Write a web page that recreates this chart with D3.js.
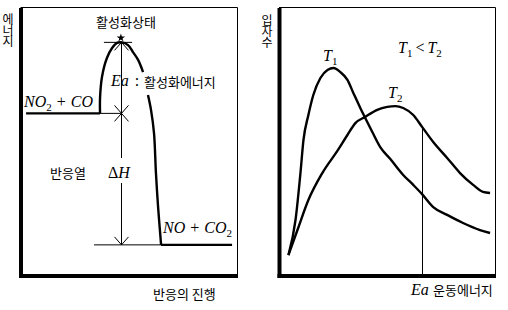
<!DOCTYPE html>
<html>
<head>
<meta charset="utf-8">
<script src="https://cdn.jsdelivr.net/npm/d3@7"></script>
<style>
  body { margin: 0; background: #fff; }
  svg { display: block; }
  .kr { font-family: "Noto Sans CJK KR", sans-serif; font-size: 13px; fill: #000; }
  .vkr { font-family: "Noto Sans CJK KR", sans-serif; font-size: 12px; fill: #000;
         writing-mode: vertical-rl; text-orientation: upright; }
  .math { font-family: "Liberation Serif", serif; font-style: italic; font-size: 16px; fill: #000; }
  .curve { fill: none; stroke: #000; stroke-width: 2.4; stroke-linejoin: round; }
  .thin { fill: none; stroke: #000; stroke-width: 1; }
  .thick { fill: none; stroke: #000; stroke-width: 2.2; }
</style>
</head>
<body>
<svg id="chart" width="508" height="310"></svg>
<script>
// ---- left panel: energy vs reaction progress (0..100 units) ----
const reactantLevel = 60.6;
const productLevel = 11.9;
const reactantStart = 1.9;
const productEnd = 97.7;
const barrierRise = [[36.3, 60.6], [36.3, 66.3], [37.2, 74.1], [39.5, 81.1], [41.9, 84.8],
  [44.2, 86.7], [46.5, 86.9], [49.3, 85.9], [51.6, 83.3], [54.0, 80.4], [56.3, 75.9]];
const barrierFall = [[58.6, 67.4], [60.0, 61.9], [61.4, 53.3], [62.3, 38.5], [63.3, 25.9], [64.7, 11.9]];
const peakEnergy = 86.9;
const arrowX = 46.0;
const tangentSpan = [38.1, 51.2];
const productGuideStart = 33.5;

// ---- right panel: particle count vs kinetic energy (0..100 units) ----
const energyT1 = [3.7, 7.0, 9.3, 10.7, 13.0, 15.3, 18.6, 21.9, 24.7, 27.9, 31.2, 34.0, 37.2,
  39.5, 42.8, 46.5, 51.2, 57.2, 61.9, 66.0, 71.2, 77.7, 85.1, 93.0, 97.7];
const countT1 = [8.1, 21.1, 38.5, 50.7, 60.0, 67.4, 73.7, 76.7, 77.4, 75.9, 73.0, 68.1, 62.6,
  58.9, 53.7, 48.1, 43.7, 37.8, 34.1, 30.7, 25.9, 23.0, 20.0, 17.4, 16.3];
const energyT2 = [3.7, 7.9, 13.0, 19.5, 26.5, 31.2, 34.9, 39.5, 45.1, 49.8, 53.5, 57.2, 61.9,
  66.0, 71.2, 77.7, 83.7, 89.8, 94.4, 97.7];
const countT2 = [8.1, 17.4, 28.5, 38.5, 46.7, 52.6, 57.0, 59.3, 61.9, 63.0, 63.3, 62.6, 60.0,
  55.6, 50.0, 44.1, 38.5, 34.1, 31.5, 31.1];
const activationEnergy = 66.0;

const svg = d3.select("#chart");

function drawFrame(g, x, y) {
  let [x0, x1] = x.range(), [y0, y1] = y.range();
  // thick left and bottom axes, no ticks
  g.append("g")
      .attr("transform", "translate(" + (x0 - 1.5) + ",0)")
      .call(d3.axisLeft(y.copy().range([y0 + 0.5, y1 + 0.5])).tickValues([]).tickSizeOuter(0))
      .select(".domain").attr("stroke-width", 4);
  g.append("g")
      .attr("transform", "translate(0," + (y0 - 1.5) + ")")
      .call(d3.axisBottom(x.copy().range([x0 - 3.5, x1 + 0.5])).tickValues([]).tickSizeOuter(0))
      .select(".domain").attr("stroke-width", 4);
  // thin top and right
  g.append("path").attr("class", "thin")
      .attr("d", "M" + (x0 - 1.5) + "," + (y1 + 0.5) + "H" + (x1 + 0.5) + "V" + (y0 - 2));
}

function vLabel(g, cx, top, label) {
  g.append("text").attr("class", "vkr")
      .attr("x", cx).attr("y", top)
      .style("letter-spacing", "-1px")
      .text(label);
}

// parts: {t, sub, up, dx}
function mathLabel(g, x, yb, parts) {
  let t = g.append("text").attr("class", "math").attr("x", x).attr("y", yb);
  let shifted = 0;
  parts.forEach(p => {
    let s = t.append("tspan").text(p.t);
    let dy = p.sub ? 4 : 0;
    s.attr("dy", dy - shifted);
    shifted = dy;
    if (p.dx) s.attr("dx", p.dx);
    if (p.sub) s.style("font-size", "11px");
    if (p.sub || p.up) s.style("font-style", "normal");
  });
  return t;
}

function arrowHead(g, px, py, dir) {
  // dir = -1 points up, 1 points down
  g.append("path").attr("class", "thin")
      .attr("d", "M" + (px - 7) + "," + (py - dir * 8) + "L" + px + "," + py + "L" + (px + 7) + "," + (py - dir * 8));
}

function drawLeft() {
  let g = svg.append("g");
  let x = d3.scaleLinear().domain([0, 100]).range([22, 237]);
  let y = d3.scaleLinear().domain([0, 100]).range([277, 7]);
  drawFrame(g, x, y);

  let line = d3.line().x(d => x(d[0])).y(d => y(d[1])).curve(d3.curveCatmullRom);
  // energy levels
  g.append("path").attr("class", "thick")
      .attr("d", line([[reactantStart, reactantLevel], [barrierRise[0][0], reactantLevel]]));
  g.append("path").attr("class", "thin")
      .attr("d", d3.line()([[x(barrierRise[0][0]), y(reactantLevel)], [x(arrowX), y(reactantLevel)]]));
  g.append("path").attr("class", "thin")
      .attr("d", d3.line()([[x(productGuideStart), y(productLevel)], [x(productEnd), y(productLevel)]]));
  g.append("path").attr("class", "thick")
      .attr("d", d3.line()([[x(barrierFall[barrierFall.length - 1][0]), y(productLevel)], [x(productEnd), y(productLevel)]]));
  // barrier
  g.append("path").attr("class", "curve").attr("d", line(barrierRise));
  g.append("path").attr("class", "curve").attr("d", line(barrierFall));
  // tangent at the top
  g.append("path").attr("class", "thin")
      .attr("d", d3.line()([[x(tangentSpan[0]), y(peakEnergy)], [x(tangentSpan[1]), y(peakEnergy)]]));
  g.append("path")
      .attr("transform", "translate(" + x(arrowX) + "," + (y(peakEnergy) - 4.5) + ")")
      .attr("d", d3.symbol(d3.symbolStar, 22)());

  // arrows: Ea and dH
  let ax = Math.round(x(arrowX)) + 0.5;
  let gapTop = 158, gapBottom = 183;
  g.append("path").attr("class", "thin")
      .attr("d", "M" + ax + "," + y(peakEnergy) + "V" + gapTop + "M" + ax + "," + gapBottom + "V" + y(productLevel));
  arrowHead(g, ax, y(peakEnergy), -1);
  arrowHead(g, ax, y(reactantLevel), 1);
  arrowHead(g, ax, y(reactantLevel), -1);
  arrowHead(g, ax, y(productLevel), 1);

  // labels
  g.append("text").attr("class", "kr").attr("x", 126).attr("y", 27)
      .attr("text-anchor", "middle").text("활성화상태");
  mathLabel(g, 111, 86, [{t: "Ea"}, {t: ":", up: true, dx: 6}]);
  g.append("text").attr("class", "kr").attr("x", 144).attr("y", 86.5).text("활성화에너지");
  mathLabel(g, 24, 107, [{t: "NO"}, {t: "2", sub: true}, {t: "+", up: true, dx: 5}, {t: "CO", dx: 5}]);
  g.append("text").attr("class", "kr").attr("x", 50).attr("y", 177.5).text("반응열");
  mathLabel(g, 108, 178, [{t: "Δ", up: true}, {t: "H"}]);
  mathLabel(g, 163, 233, [{t: "NO"}, {t: "+", up: true, dx: 5}, {t: "CO", dx: 5}, {t: "2", sub: true}]);
  g.append("text").attr("class", "kr").attr("x", 153).attr("y", 299).text("반응의 진행");
  vLabel(g, 8, 13, "에너지");
}

function drawRight() {
  let g = svg.append("g");
  let x = d3.scaleLinear().domain([0, 100]).range([280.5, 495]);
  let y = d3.scaleLinear().domain([0, 100]).range([277, 7]);
  drawFrame(g, x, y);

  let line = d3.line().x(d => x(d[0])).y(d => y(d[1])).curve(d3.curveMonotoneX);
  g.append("path").attr("class", "curve").attr("d", line(d3.zip(energyT1, countT1)));
  g.append("path").attr("class", "curve").attr("d", line(d3.zip(energyT2, countT2)));

  // Ea marker up to the T2 curve
  let ea = Math.round(x(activationEnergy)) + 0.5;
  let eaCount = countT2[energyT2.indexOf(activationEnergy)];
  g.append("path").attr("class", "thin")
      .attr("d", "M" + ea + "," + y(eaCount) + "V" + (y(0) - 3));

  mathLabel(g, 323, 61, [{t: "T"}, {t: "1", sub: true}]);
  mathLabel(g, 388, 98, [{t: "T"}, {t: "2", sub: true}]);
  mathLabel(g, 398, 53, [{t: "T"}, {t: "1", sub: true}, {t: "<", up: true, dx: 3}, {t: "T", dx: 3}, {t: "2", sub: true}]);
  mathLabel(g, 411, 295, [{t: "Ea"}]);
  g.append("text").attr("class", "kr").attr("x", 433).attr("y", 295).text("운동에너지");
  vLabel(g, 267, 14, "입자수");
}

drawLeft();
drawRight();
</script>
</body>
</html>
